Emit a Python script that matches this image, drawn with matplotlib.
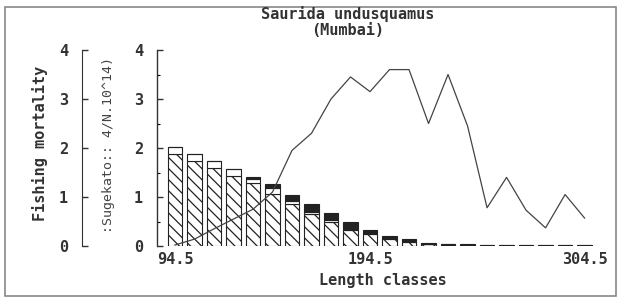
import numpy as np
import matplotlib
matplotlib.use("Agg")
import matplotlib.pyplot as plt
from matplotlib.patches import Rectangle

# -----------------------------
# DATA
# -----------------------------
length_classes = np.arange(94.5, 305, 10)

# stacked bars: hatched bottom, white middle, black top
bar_hatched = [1.88, 1.74, 1.60, 1.43, 1.28, 1.07, 0.86, 0.65, 0.50, 0.33, 0.24,
               0.15, 0.08, 0.04, 0.03, 0.02, 0.01, 0.01, 0.01, 0.01, 0.01, 0.01]
bar_white = [0.14, 0.14, 0.13, 0.14, 0.08, 0.11, 0.06, 0.05, 0.03, 0.02, 0.03,
             0.02, 0.02, 0.01, 0.01, 0.01, 0.005, 0.005, 0.005, 0.005, 0.005, 0.005]
bar_black = [0.0, 0.0, 0.0, 0.0, 0.05, 0.09, 0.12, 0.16, 0.14, 0.13, 0.06,
             0.04, 0.04, 0.02, 0.01, 0.01, 0.01, 0.01, 0.01, 0.01, 0.01, 0.01]

fishing_mortality = [0.02, 0.14, 0.35, 0.55, 0.75, 1.1, 1.95, 2.3, 3.0, 3.45, 3.15,
                     3.6, 3.6, 2.5, 3.5, 2.45, 0.78, 1.4, 0.73, 0.37, 1.05, 0.57]

ytick_vals = [0, 1, 2, 3, 4]
xtick_vals = [94.5, 194.5, 304.5]

TITLE = "Saurida undusquamus\n(Mumbai)"
YLABEL1 = "Fishing mortality"
YLABEL2 = ":Sugekato:: 4/N.10^14)"
XLABEL = "Length classes"

# -----------------------------
# FIGURE
# -----------------------------
FONT = "DejaVu Sans Mono"
W, H = 619, 300
fig = plt.figure(figsize=(W / 100, H / 100), dpi=100)
plt.rcParams["hatch.linewidth"] = 0.9

# outer border
fig.patches.append(Rectangle((5 / W, 4 / H), 611 / W, 289 / H, transform=fig.transFigure,
                             fill=False, edgecolor="#888888", linewidth=1.2))

bottom = 1 - 246 / H
height = (246 - 50) / H

# main axes (second y-axis + bars + line)
ax = fig.add_axes([157 / W, bottom, 443 / W, height])
ax.bar(length_classes, bar_hatched, width=7.6, color="white", edgecolor="#222222",
       hatch="\\\\\\", linewidth=0.8)
ax.bar(length_classes, bar_white, width=7.6, bottom=bar_hatched, color="white",
       edgecolor="#222222", linewidth=0.8)
bot2 = np.array(bar_hatched) + np.array(bar_white)
ax.bar(length_classes, bar_black, width=7.6, bottom=bot2, color="#222222",
       edgecolor="#222222", linewidth=0.8)
ax.plot(length_classes, fishing_mortality, color="#444444", linewidth=0.9)

ax.set_xlim(85.3, 312.4)
ax.set_ylim(0, 4)
for s in ["top", "right", "bottom"]:
    ax.spines[s].set_visible(False)
ax.spines["left"].set_linewidth(1.0)
ax.spines["left"].set_color("#333333")
ax.set_yticks(ytick_vals)
ax.set_yticks([0.5, 1.5, 2.5, 3.5], minor=True)
ax.tick_params(axis="y", direction="in", length=4, width=1, pad=10, color="#333333")
ax.tick_params(axis="y", which="minor", direction="in", length=2, width=0.8)
ax.set_xticks(xtick_vals)
ax.set_xticklabels(["94.5", "194.5", "304.5"])
ax.tick_params(axis="x", length=0, pad=4)
for lab in ax.get_xticklabels() + ax.get_yticklabels():
    lab.set_fontfamily(FONT)
    lab.set_fontweight("bold")
    lab.set_fontsize(11)
    lab.set_color("#333333")

# first y-axis (fishing mortality)
ax1 = fig.add_axes([82 / W, bottom, 0.001, height])
ax1.set_ylim(0, 4)
ax1.set_xticks([])
for s in ["top", "right", "bottom"]:
    ax1.spines[s].set_visible(False)
ax1.spines["left"].set_color("#333333")
ax1.set_yticks(ytick_vals)
ax1.tick_params(axis="y", direction="in", length=4, width=1, pad=10, color="#333333")
for lab in ax1.get_yticklabels():
    lab.set_fontfamily(FONT)
    lab.set_fontweight("bold")
    lab.set_fontsize(11)
    lab.set_color("#333333")
ax1.patch.set_visible(False)

# labels
fig.text(40 / W, 1 - 143 / H, YLABEL1, rotation=90, ha="center", va="center",
         fontfamily=FONT, fontweight="bold", fontsize=11, color="#333333")
fig.text(108 / W, 1 - 145 / H, YLABEL2, rotation=90, ha="center", va="center",
         fontfamily=FONT, fontsize=9.5, color="#444444")
fig.text(383 / W, 1 - 280 / H, XLABEL, ha="center", va="center",
         fontfamily=FONT, fontweight="bold", fontsize=11, color="#333333")
fig.text(348 / W, 1 - 22 / H, TITLE, ha="center", va="center", linespacing=1.1,
         fontfamily=FONT, fontweight="bold", fontsize=11, color="#333333")

fig.savefig("out.png", dpi=100)
